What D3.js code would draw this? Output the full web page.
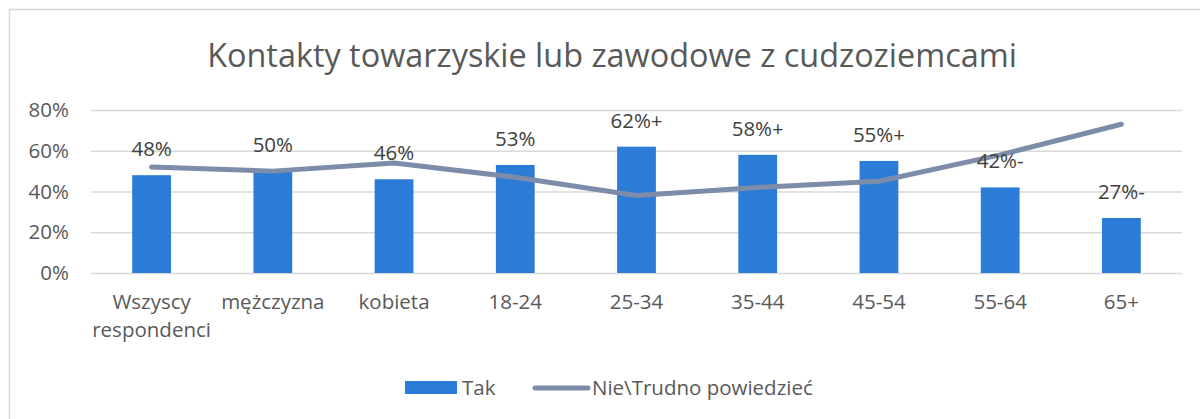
<!DOCTYPE html>
<html>
<head>
<meta charset="utf-8">
<script src="https://cdn.jsdelivr.net/npm/d3@7"></script>
<style>
  body { margin: 0; background: #fff; }
  svg { display: block; font-family: "Open Sans", sans-serif; }
</style>
</head>
<body>
<div id="chart"></div>
<script>
const categories = ["Wszyscy respondenci", "mężczyzna", "kobieta", "18-24", "25-34", "35-44", "45-54", "55-64", "65+"];
const tak = [48, 50, 46, 53, 62, 58, 55, 42, 27];
const nie = [52, 50, 54, 47, 38, 42, 45, 58, 73];
const takLabels = ["48%", "50%", "46%", "53%", "62%+", "58%+", "55%+", "42%-", "27%-"];
const yTicks = [0, 20, 40, 60, 80];
const title = "Kontakty towarzyskie lub zawodowe z cudzoziemcami";
const seriesNames = ["Tak", "Nie\\Trudno powiedzieć"];

const width = 1200, height = 419;
const margin = { top: 110, right: 18, bottom: 146, left: 91 };
const innerWidth = width - margin.left - margin.right;
const innerHeight = height - margin.top - margin.bottom;

const barColor = "#2B7CD6";
const lineColor = "#7D8CA8";
const textColor = "#595959";
const fontSize = 20.5;

const svg = d3.select("#chart").append("svg")
  .attr("width", width)
  .attr("height", height);

// chart frame (only top and left visible in the crop)
svg.append("path")
  .attr("d", `M9.5,${height} V9.5 H${width}`)
  .attr("fill", "none")
  .attr("stroke", "#D9D9D9")
  .attr("stroke-width", 1.5);

svg.append("text")
  .attr("x", 612)
  .attr("y", 67)
  .attr("text-anchor", "middle")
  .attr("font-size", 32.4)
  .attr("fill", textColor)
  .text(title);

const xScale = d3.scaleBand()
  .domain(categories)
  .range([0, innerWidth])
  .paddingInner(0.68)
  .paddingOuter(0.34);

const yScale = d3.scaleLinear()
  .domain([0, 80])
  .range([innerHeight, 0]);

const innerChart = svg.append("g")
  .attr("transform", `translate(${margin.left}, ${margin.top})`);

// gridlines + y labels
const yAxis = innerChart.append("g")
  .call(d3.axisLeft(yScale)
    .tickValues(yTicks)
    .tickSize(-innerWidth)
    .tickFormat(d => d + "%"));
yAxis.select(".domain").remove();
yAxis.selectAll(".tick line").attr("stroke", "#D9D9D9").attr("stroke-width", 1.5);
yAxis.selectAll(".tick text")
  .attr("x", -22)
  .attr("font-size", fontSize)
  .attr("font-family", "Open Sans, sans-serif")
  .attr("fill", textColor);

// bars
innerChart.selectAll(".bar")
  .data(tak)
  .join("rect")
    .attr("class", "bar")
    .attr("x", (d, i) => xScale(categories[i]))
    .attr("y", d => yScale(d))
    .attr("width", xScale.bandwidth())
    .attr("height", d => innerHeight - yScale(d))
    .attr("fill", barColor);

// line
const lineGenerator = d3.line()
  .x((d, i) => xScale(categories[i]) + xScale.bandwidth() / 2)
  .y(d => yScale(d));

innerChart.append("path")
  .datum(nie)
  .attr("d", lineGenerator)
  .attr("fill", "none")
  .attr("stroke", lineColor)
  .attr("stroke-width", 5)
  .attr("stroke-linecap", "round")
  .attr("stroke-linejoin", "round");

// data labels
innerChart.selectAll(".label")
  .data(tak)
  .join("text")
    .attr("class", "label")
    .attr("x", (d, i) => xScale(categories[i]) + xScale.bandwidth() / 2)
    .attr("y", d => yScale(d) - 19)
    .attr("text-anchor", "middle")
    .attr("font-size", fontSize)
    .attr("fill", "#404040")
    .text((d, i) => takLabels[i]);

// x labels
const xLabels = innerChart.append("g")
  .attr("transform", `translate(0, ${innerHeight})`);
xLabels.selectAll("text")
  .data(categories)
  .join("text")
    .attr("x", d => xScale(d) + xScale.bandwidth() / 2)
    .attr("y", 36)
    .attr("text-anchor", "middle")
    .attr("font-size", fontSize)
    .attr("fill", textColor)
    .each(function(d) {
      const words = d.split(" ");
      const t = d3.select(this);
      words.forEach((w, i) => {
        t.append("tspan")
          .attr("x", xScale(d) + xScale.bandwidth() / 2)
          .attr("dy", i === 0 ? 0 : 28)
          .text(w);
      });
    });

// legend
const legend = svg.append("g").attr("transform", "translate(405, 388)");
legend.append("rect")
  .attr("x", 0).attr("y", -7)
  .attr("width", 52).attr("height", 13)
  .attr("fill", barColor);
legend.append("text")
  .attr("x", 57).attr("y", 7)
  .attr("font-size", fontSize)
  .attr("fill", textColor)
  .text(seriesNames[0]);
legend.append("line")
  .attr("x1", 130).attr("x2", 183)
  .attr("y1", 0).attr("y2", 0)
  .attr("stroke", lineColor)
  .attr("stroke-width", 5)
  .attr("stroke-linecap", "round");
legend.append("text")
  .attr("x", 187).attr("y", 7)
  .attr("font-size", fontSize)
  .attr("fill", textColor)
  .text(seriesNames[1]);
</script>
</body>
</html>
